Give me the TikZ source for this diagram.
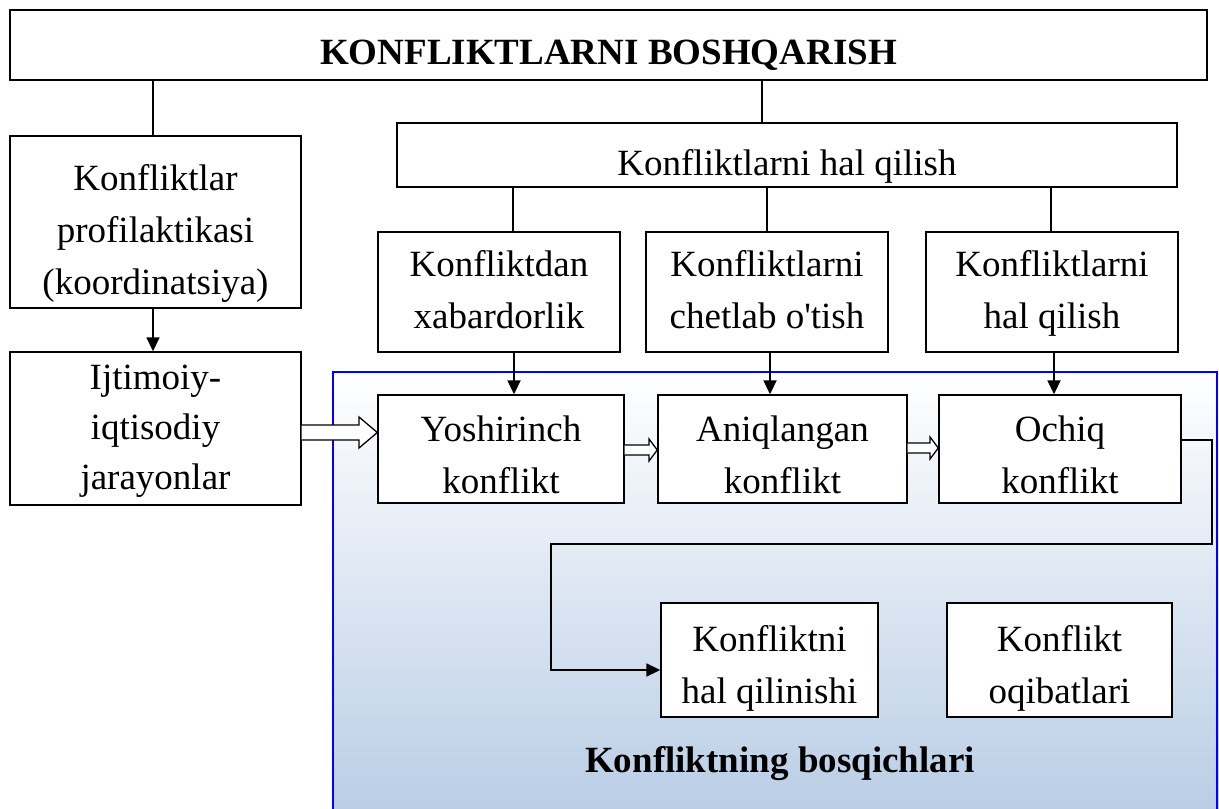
\documentclass[tikz,border=0pt]{standalone}
\usepackage{fontspec}
\setmainfont{Liberation Serif}[Ligatures=TeXOff]
\usetikzlibrary{arrows.meta}
\definecolor{panelblue}{RGB}{185,205,229}
\newcommand\tstr[1][36pt]{\rule{0pt}{#1}}
\newcommand\bstr[1][16pt]{\rule[-#1]{0pt}{#1}}
\tikzset{
 box/.style={draw, line width=1.4pt, fill=white, align=center, inner sep=0pt,
   font=\fontsize{37}{52}\selectfont},
 bbox/.style={box, text height=38pt, text depth=0pt, font=\bfseries\fontsize{37}{52}\selectfont},
 link/.style={line width=1.3pt},
 arr/.style={line width=1.8pt, -{Triangle[length=14pt,width=13pt]}},
 blockarr/.style={draw, line width=1.3pt, fill=white, line join=miter},
}
\begin{document}
\begin{tikzpicture}[x=1pt,y=-1pt]
\useasboundingbox (0,0) rectangle (1219,809);
% panel
\shade[top color=white, bottom color=panelblue] (333,372) rectangle (1219,812);
\draw[blue, line width=2.5pt] (333,812) -- (333,372) -- (1217,372) -- (1217,812);
% nodes
\node[bbox, minimum width=1197pt, minimum height=70pt] (top) at (608.5,45) {KONFLIKTLARNI BOSHQARISH};
\node[box, minimum width=291pt, minimum height=172pt] (prof) at (155.5,222) {\tstr[48pt]Konfliktlar\\profilaktikasi\\(koordinatsiya)\bstr[4pt]};
\node[box, minimum width=291pt, minimum height=153pt, font=\fontsize{37}{50}\selectfont] (ijt) at (155.5,428.5) {\tstr[37pt]Ijtimoiy-\\iqtisodiy\\jarayonlar\bstr[15pt]};
\node[box, minimum width=780pt, minimum height=64pt, text height=40pt, text depth=0pt] (halq) at (787,155) {Konfliktlarni hal qilish};
\node[box, minimum width=242pt, minimum height=120pt] (xab) at (499,292) {\tstr Konfliktdan\\xabardorlik\bstr};
\node[box, minimum width=242pt, minimum height=120pt] (chet) at (767,292) {\tstr Konfliktlarni\\chetlab o'tish\bstr};
\node[box, minimum width=252pt, minimum height=120pt] (hal) at (1052,292) {\tstr Konfliktlarni\\hal qilish\bstr};
\node[box, minimum width=246pt, minimum height=108pt] (yosh) at (501,449) {\tstr[44pt]Yoshirinch\\konflikt\bstr[8pt]};
\node[box, minimum width=249pt, minimum height=108pt] (aniq) at (782.5,449) {\tstr[44pt]Aniqlangan\\konflikt\bstr[8pt]};
\node[box, minimum width=242pt, minimum height=108pt] (ochiq) at (1060,449) {\tstr[44pt]Ochiq\\konflikt\bstr[8pt]};
\node[box, minimum width=217pt, minimum height=114pt] (kh) at (769.5,660) {\tstr[43pt]Konfliktni\\hal qilinishi\bstr[9pt]};
\node[box, minimum width=225pt, minimum height=114pt] (ko) at (1059.5,660) {\tstr[43pt]Konflikt\\oqibatlari\bstr[9pt]};
\node[font=\bfseries\fontsize{37}{52}\selectfont, inner sep=0pt, anchor=base] (title) at (780,772) {Konfliktning bosqichlari};
% plain links
\draw[link] (top.south -| 153,0) -- (prof.north -| 153,0);
\draw[link] (top.south -| 762,0) -- (halq.north -| 762,0);
\draw[link] (halq.south -| 513,0) -- (xab.north -| 513,0);
\draw[link] (halq.south -| 767,0) -- (chet.north -| 767,0);
\draw[link] (halq.south -| 1051,0) -- (hal.north -| 1051,0);
% arrows
\draw[arr] (prof.south -| 153,0) -- (ijt.north -| 153,0);
\draw[arr] (xab.south -| 514,0) -- (yosh.north -| 514,0);
\draw[arr] (chet.south -| 770,0) -- (aniq.north -| 770,0);
\draw[arr] (hal.south -| 1054,0) -- (ochiq.north -| 1054,0);
\draw[arr] (ochiq.east |- 0,440) -- (1212,440) -- (1212,544) -- (551,544) -- (551,670) -- (kh.west |- 0,670);
% block arrows
\draw[blockarr] (ijt.east |- 0,425) -- (359,425) -- (359,417) -- (yosh.west |- 0,432.5) -- (359,448) -- (359,440) -- (ijt.east |- 0,440);
\draw[blockarr] (yosh.east |- 0,445) -- (649,445) -- (649,439) -- (aniq.west |- 0,450) -- (649,461) -- (649,455) -- (yosh.east |- 0,455);
\draw[blockarr] (aniq.east |- 0,443) -- (930,443) -- (930,437) -- (ochiq.west |- 0,448) -- (930,459) -- (930,453) -- (aniq.east |- 0,453);
\end{tikzpicture}
\end{document}
